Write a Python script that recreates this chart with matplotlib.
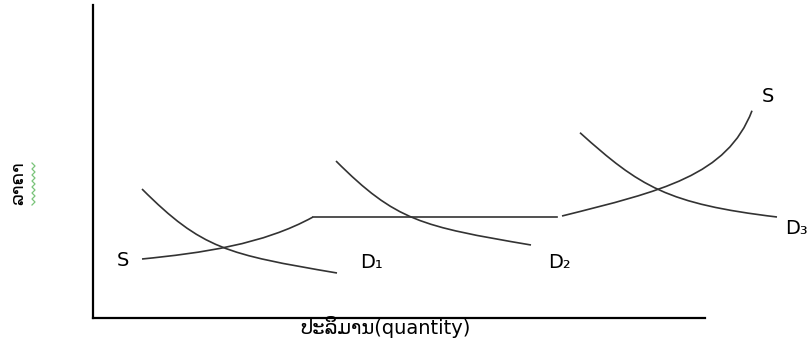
import numpy as np
import matplotlib.pyplot as plt
from matplotlib.path import Path
from matplotlib.patches import PathPatch

# curves as cubic Bezier segments: start, control 1, control 2, end (quantity, price)
supply_low = [(49, 59), (109, 65), (170, 73.5), (220, 101)]
supply_flat = [(220, 101), (464, 101)]
supply_high = [(469, 102), (569, 127), (634, 142.3), (659, 207.3)]

demand_1 = [(49, 129), (109, 69), (134, 63.7), (244, 45)]
demand_2 = [(243, 157), (303, 97), (328, 91.7), (438, 73)]
demand_3 = [(487, 185.3), (547, 131.3), (574, 114.2), (684, 101)]

labels = ["S", "D₁", "D₂", "S", "D₃"]
label_q = [30, 278, 467, 675, 703]
label_p = [58, 56, 55, 221, 89]

xlabel = "ປະລິມານ(quantity)"
ylabel = "ລາຄາ"

plt.rcParams['font.family'] = ['DejaVu Sans']

fig = plt.figure(figsize=(8.11, 3.41), dpi=100)
ax = fig.add_axes([93 / 811, 1 - 318 / 341, 612 / 811, 313 / 341])
ax.set_xlim(0, 612)
ax.set_ylim(0, 313)
ax.set_xticks([])
ax.set_yticks([])
for side in ["top", "right"]:
    ax.spines[side].set_visible(False)
ax.spines["left"].set_linewidth(1.6)
ax.spines["bottom"].set_linewidth(1.6)

line_color = "#333333"


def bezier(pts):
    codes = [Path.MOVETO, Path.CURVE4, Path.CURVE4, Path.CURVE4]
    patch = PathPatch(Path(pts, codes), facecolor="none", edgecolor=line_color,
                      lw=1.2, clip_on=False, transform=ax.transData)
    ax.add_patch(patch)


for curve in [supply_low, supply_high, demand_1, demand_2, demand_3]:
    bezier(curve)

fq, fp = zip(*supply_flat)
ax.plot(fq, fp, color=line_color, lw=1.2, clip_on=False)

for txt, q, p in zip(labels, label_q, label_p):
    ax.text(q, p, txt, fontsize=14, ha="center", va="center", clip_on=False)

ax.text(292, -9, xlabel, fontsize=14, ha="center", va="center", clip_on=False)
ax.text(-75, 135, ylabel, fontsize=13, rotation=90, ha="center", va="center",
        clip_on=False)

# squiggly spell-check underline beside the rotated label
zz_y = np.linspace(113, 155, 15)
zz_x = np.where(np.arange(15) % 2 == 0, -61, -58)
ax.plot(zz_x, zz_y, color="#7ac47a", lw=0.9, clip_on=False)

fig.savefig("out.png", dpi=100)
